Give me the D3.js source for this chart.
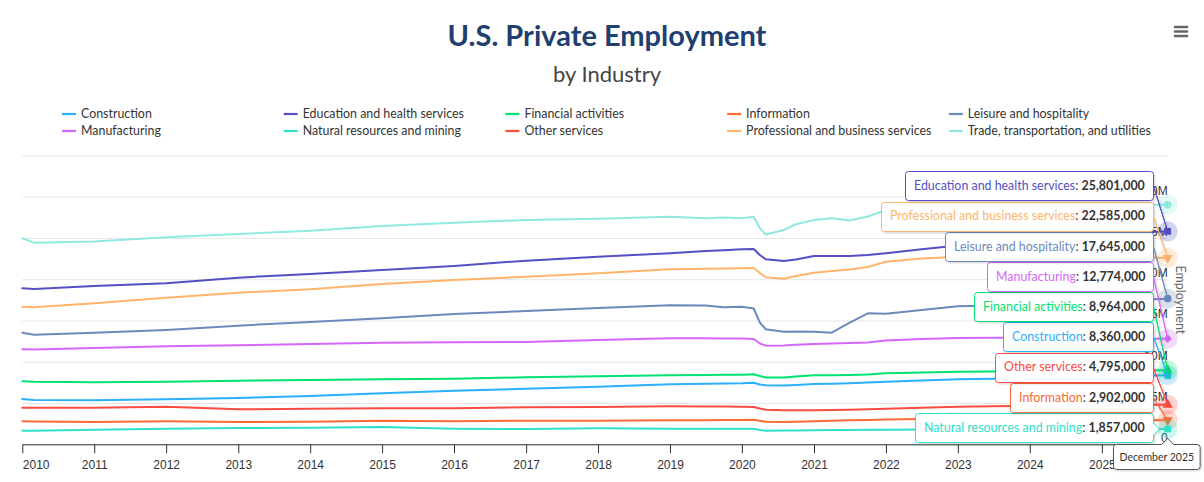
<!DOCTYPE html>
<html>
<head>
<meta charset="utf-8">
<script src="https://cdn.jsdelivr.net/npm/d3@7"></script>
<style>
  body { margin: 0; background: #fff; }
  svg { display: block; font-family: Lato, "Open Sans", sans-serif; }
</style>
</head>
<body>
<svg id="chart" width="1204" height="482"></svg>
<script>
// months counted from January 2010 (0 = Jan 2010, 191 = Dec 2025)
const months = [0, 2, 12, 24, 36, 48, 60, 72, 84, 96, 108, 114, 117, 120, 122, 123, 124, 127, 129, 132, 135, 138, 141, 144, 150, 156, 162, 168, 180, 191];

const yearTicks = [2010, 2011, 2012, 2013, 2014, 2015, 2016, 2017, 2018, 2019, 2020, 2021, 2022, 2023, 2024, 2025];
const yTickValues = [0, 5, 10, 15, 20, 25, 30, 35]; // millions
const yTickLabels = ["0", "5M", "10M", "15M", "20M", "25M", "30M", "35M"];

const seriesNames = ["Construction", "Education and health services", "Financial activities", "Information",
  "Leisure and hospitality", "Manufacturing", "Natural resources and mining", "Other services",
  "Professional and business services", "Trade, transportation, and utilities"];

// employment, thousands
const construction = [5489, 5368, 5331, 5453, 5610, 5853, 6180, 6495, 6737, 6979, 7270, 7330, 7370, 7391, 7464, 7246, 7149, 7125, 7185, 7307, 7330, 7400, 7480, 7585, 7731, 7876, 7949, 8058, 8240, 8360];
const education = [18903, 18818, 19181, 19508, 20187, 20635, 21120, 21605, 22247, 22732, 23143, 23422, 23520, 23628, 23665, 22937, 22416, 22210, 22392, 22816, 22816, 22816, 22937, 23143, 23628, 24089, 24513, 24876, 25421, 25801];
const financial = [7634, 7573, 7513, 7585, 7706, 7791, 7876, 7949, 8118, 8240, 8361, 8400, 8420, 8433, 8482, 8276, 8094, 8094, 8215, 8361, 8361, 8397, 8458, 8615, 8700, 8797, 8821, 8845, 8918, 8964];
const information = [2787, 2760, 2702, 2787, 2702, 2738, 2860, 2787, 2860, 2860, 2908, 2920, 2930, 2944, 2981, 2848, 2738, 2702, 2720, 2787, 2840, 2900, 2950, 3005, 3080, 3150, 3140, 3126, 3005, 2902];
const leisure = [13523, 13280, 13523, 13850, 14371, 14819, 15267, 15789, 16152, 16516, 16843, 16819, 16600, 16673, 16455, 14759, 13935, 13644, 13668, 13644, 13523, 14734, 15873, 15813, 16273, 16721, 16819, 16940, 17364, 17645];
const manufacturing = [11511, 11487, 11669, 11875, 11996, 12153, 12311, 12359, 12396, 12638, 12844, 12844, 12832, 12820, 12759, 12214, 11947, 11972, 12057, 12153, 12214, 12275, 12335, 12578, 12759, 12880, 12917, 12905, 12856, 12774];
const natural = [1648, 1640, 1769, 1890, 1975, 2011, 2096, 1890, 1854, 1939, 1890, 1890, 1890, 1890, 1880, 1733, 1648, 1660, 1680, 1696, 1720, 1740, 1755, 1769, 1795, 1818, 1840, 1854, 1878, 1857];
const other = [4435, 4435, 4435, 4556, 4241, 4314, 4362, 4375, 4483, 4520, 4604, 4590, 4570, 4556, 4520, 4338, 4192, 4132, 4130, 4120, 4150, 4200, 4260, 4314, 4440, 4556, 4610, 4665, 4762, 4795];
const professional = [16673, 16600, 17085, 17763, 18369, 18781, 19424, 19908, 20308, 20720, 21205, 21277, 21300, 21326, 21362, 20756, 20235, 20066, 20393, 20793, 20999, 21181, 21483, 22126, 22513, 22732, 22877, 22937, 22756, 22585];
const trade = [24961, 24428, 24573, 25082, 25482, 25882, 26452, 26851, 27178, 27336, 27578, 27384, 27482, 27384, 27578, 26173, 25421, 25967, 26657, 27178, 27384, 27118, 27603, 28390, 28814, 28935, 28960, 28935, 28996, 29015];

const seriesValues = [construction, education, financial, information, leisure, manufacturing, natural, other, professional, trade];
const colors = ["#2caffe", "#544fc5", "#00e272", "#fe6a35", "#6b8abc", "#d568fb", "#2ee0ca", "#fa4b42", "#feb56a", "#91e8e1"];
const markerTypes = ["circle", "square", "triangle", "triangle-down", "circle", "diamond", "square", "triangle", "triangle-down", "circle"];

const svg = d3.select("#chart");
const plot = {left: 22.3, right: 1167.7, top: 155.4, bottom: 444.3};
const textColor = "#333333";

const defs = svg.append("defs");
defs.append("filter").attr("id", "shadow")
    .attr("x", "-10%").attr("y", "-30%").attr("width", "130%").attr("height", "170%")
    .append("feDropShadow")
    .attr("dx", 1).attr("dy", 1).attr("stdDeviation", 1.2)
    .attr("flood-color", "#000").attr("flood-opacity", 0.18);

const start = new Date(Date.UTC(2010, 0, 1));
const dates = months.map(m => d3.utcMonth.offset(start, m));
const lastIdx = months.length - 1;

const x = d3.scaleUtc()
    .domain([start, dates[lastIdx]])
    .range([plot.left, plot.right]);
const y = d3.scaleLinear()
    .domain([0, 35e6])
    .range([plot.bottom, plot.top]);

const series = seriesNames.map((name, i) => ({
    name: name, values: seriesValues[i], color: colors[i], marker: markerTypes[i]
}));

// title + subtitle
svg.append("text")
    .attr("x", 607).attr("y", 46)
    .attr("text-anchor", "middle")
    .attr("font-size", 29).attr("font-weight", "bold")
    .attr("fill", "#1f3f6e")
    .text("U.S. Private Employment");
svg.append("text")
    .attr("x", 607).attr("y", 82)
    .attr("text-anchor", "middle")
    .attr("font-size", 22)
    .attr("fill", "#444")
    .text("by Industry");

// menu icon
svg.append("g").selectAll("line")
    .data([27, 31.5, 36])
    .join("line")
    .attr("x1", 1175).attr("x2", 1187)
    .attr("y1", d => d).attr("y2", d => d)
    .attr("stroke", "#666").attr("stroke-width", 2.6).attr("stroke-linecap", "round");

// legend, 5 columns
const legend = svg.append("g")
    .selectAll("g")
    .data(series)
    .join("g")
    .attr("transform", (d, i) => "translate(" + (62 + (i % 5) * 221.7) + "," + (114 + Math.floor(i / 5) * 17) + ")");
legend.append("line")
    .attr("x1", 0).attr("x2", 14)
    .attr("stroke", d => d.color).attr("stroke-width", 2.2);
legend.append("text")
    .attr("x", 19).attr("dy", "0.35em")
    .attr("font-size", 12.4)
    .attr("fill", textColor)
    .text(d => d.name);

// y gridlines + labels (right side)
const yAxis = d3.axisRight(y)
    .tickValues(yTickValues.map(v => v * 1e6))
    .tickSize(plot.right - plot.left)
    .tickFormat((d, i) => i === yTickValues.length - 1 ? "" : yTickLabels[i]);
const gy = svg.append("g")
    .attr("transform", "translate(" + plot.left + ",0)")
    .call(yAxis);
gy.select(".domain").remove();
gy.selectAll(".tick line").attr("stroke", "#e6e6e6");
gy.selectAll(".tick text")
    .attr("x", plot.right - plot.left)
    .attr("dy", "-0.22em")
    .attr("text-anchor", "end")
    .attr("font-family", null)
    .attr("font-size", 12)
    .attr("fill", textColor);

// x axis
const xAxis = d3.axisBottom(x)
    .tickValues(yearTicks.map(yr => new Date(Date.UTC(yr, 0, 1))))
    .tickFormat(d3.utcFormat("%Y"))
    .tickSize(9)
    .tickSizeOuter(0)
    .tickPadding(7);
const gx = svg.append("g")
    .attr("transform", "translate(0," + plot.bottom + ")")
    .call(xAxis);
gx.select(".domain").attr("stroke", textColor);
gx.selectAll(".tick line").attr("stroke", textColor);
gx.selectAll(".tick text")
    .attr("font-family", null)
    .attr("font-size", 12)
    .attr("fill", textColor);
gx.selectAll(".tick text").filter((d, i) => i === 0)
    .attr("text-anchor", "start")
    .attr("x", 0);

// y axis title
svg.append("text")
    .attr("transform", "translate(1180," + ((plot.top + plot.bottom) / 2) + ") rotate(90)")
    .attr("text-anchor", "middle")
    .attr("dy", "0.35em")
    .attr("font-size", 12.5)
    .attr("fill", "#666")
    .text("Employment");

// lines
const line = d3.line()
    .x((d, i) => x(dates[i]))
    .y(d => y(d * 1000));
svg.append("g")
    .selectAll("path")
    .data(series)
    .join("path")
    .attr("d", d => line(d.values))
    .attr("fill", "none")
    .attr("stroke", d => d.color)
    .attr("stroke-width", 2)
    .attr("stroke-linejoin", "round")
    .attr("stroke-linecap", "round");

// hovered points (last month)
const ax = x(dates[lastIdx]);
const symbolOf = {
    "circle": d3.symbolCircle, "square": d3.symbolSquare, "triangle": d3.symbolTriangle,
    "triangle-down": d3.symbolTriangle, "diamond": d3.symbolSquare
};
const pts = svg.append("g")
    .selectAll("g")
    .data(series)
    .join("g")
    .attr("transform", d => "translate(" + ax + "," + y(d.values[lastIdx] * 1000) + ")");
pts.append("circle")
    .attr("r", 10)
    .attr("fill", d => d.color)
    .attr("fill-opacity", 0.25);
pts.append("path")
    .attr("d", d => d3.symbol().type(symbolOf[d.marker]).size(d.marker === "diamond" ? 36 : 46)())
    .attr("transform", d => d.marker === "triangle-down" ? "rotate(180)" : d.marker === "diamond" ? "rotate(45)" : null)
    .attr("fill", d => d.color);

// split tooltip boxes
const fmt = d3.format(",");
const tipH = 29, tipGap = 1.2, tipPad = 8.5, tipR = 3;

function calloutPath(L, T, w, h, r, anchorX, anchorY) {
    const R = L + w, B = T + h;
    let p = "M" + (L + r) + "," + T + "L" + (R - r) + "," + T + "Q" + R + "," + T + " " + R + "," + (T + r);
    if (anchorY > T + r + 6 && anchorY < B - r - 6) {
        p += "L" + R + "," + (anchorY - 6) + "L" + (R + 6) + "," + anchorY + "L" + R + "," + (anchorY + 6);
    } else {
        p += "L" + R + "," + (T + h / 2) + "L" + anchorX + "," + anchorY + "L" + R + "," + (T + h / 2);
    }
    p += "L" + R + "," + (B - r) + "Q" + R + "," + B + " " + (R - r) + "," + B +
        "L" + (L + r) + "," + B + "Q" + L + "," + B + " " + L + "," + (B - r) +
        "L" + L + "," + (T + r) + "Q" + L + "," + T + " " + (L + r) + "," + T + "Z";
    return p;
}

let tips = series.map(s => ({s: s, ay: y(s.values[lastIdx] * 1000)}))
    .sort((a, b) => b.ay - a.ay);
let prevTop = null;
tips.forEach(t => {
    let top = t.ay - tipH / 2;
    if (prevTop === null) top = Math.min(top, plot.bottom - 2.3 - tipH);
    else top = Math.min(top, prevTop - tipGap - tipH);
    t.top = top;
    prevTop = top;
});
tips = tips.filter(t => t.top >= plot.top);

const tipRight = ax - 14.7;
const tipG = svg.append("g");
tips.forEach(t => {
    const g = tipG.append("g");
    const path = g.append("path");
    const txt = g.append("text")
        .attr("y", t.top + tipH / 2)
        .attr("dy", "0.35em")
        .attr("font-size", 12.4);
    txt.append("tspan").attr("fill", t.s.color).text(t.s.name);
    txt.append("tspan").attr("fill", textColor).text(": ");
    txt.append("tspan").attr("fill", textColor).attr("font-weight", "bold").text(fmt(t.s.values[lastIdx] * 1000));
    const w = txt.node().getComputedTextLength() + 2 * tipPad;
    const L = Math.round(tipRight - w) + 0.5;
    txt.attr("x", L + tipPad);
    path.attr("d", calloutPath(L, Math.round(t.top) + 0.5, Math.round(tipRight) + 0.5 - L, tipH, tipR, ax, t.ay))
        .attr("fill", "#fff")
        .attr("stroke", t.s.color)
        .attr("stroke-width", 1)
        .attr("filter", "url(#shadow)");
});

// header label under the axis
const hg = svg.append("g");
const hPath = hg.append("path");
const hText = hg.append("text")
    .attr("font-size", 10.5)
    .attr("fill", textColor)
    .attr("dy", "0.35em")
    .text(d3.utcFormat("%B %Y")(dates[lastIdx]));
const hw = hText.node().getComputedTextLength() + 12;
const hR = Math.min(ax + hw / 2, 1200);
const hL = Math.round(hR - hw) + 0.5, hT = Math.round(plot.bottom) + 0.5, hH = 25;
hText.attr("x", hL + 6).attr("y", hT + hH / 2);
hPath.attr("d",
    "M" + (hL + 3) + "," + hT + "L" + (ax - 6) + "," + hT + "L" + ax + "," + (hT - 6) + "L" + (ax + 6) + "," + hT +
    "L" + (hL + hw - 3) + "," + hT + "Q" + (hL + hw) + "," + hT + " " + (hL + hw) + "," + (hT + 3) +
    "L" + (hL + hw) + "," + (hT + hH - 3) + "Q" + (hL + hw) + "," + (hT + hH) + " " + (hL + hw - 3) + "," + (hT + hH) +
    "L" + (hL + 3) + "," + (hT + hH) + "Q" + hL + "," + (hT + hH) + " " + hL + "," + (hT + hH - 3) +
    "L" + hL + "," + (hT + 3) + "Q" + hL + "," + hT + " " + (hL + 3) + "," + hT + "Z")
    .attr("fill", "#fff")
    .attr("stroke", "#555")
    .attr("stroke-width", 1)
    .attr("filter", "url(#shadow)");
</script>
</body>
</html>
